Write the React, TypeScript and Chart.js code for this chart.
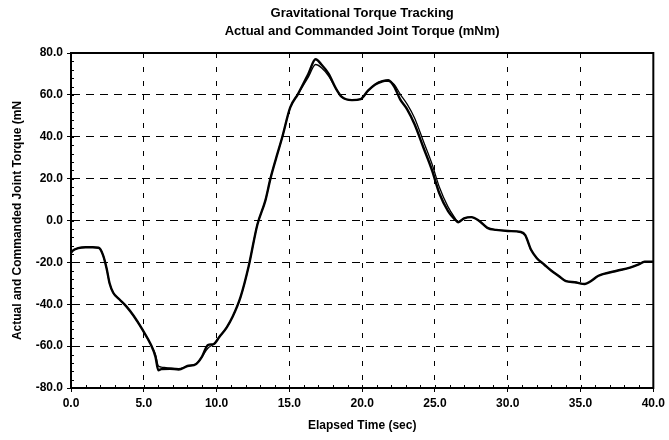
import { useEffect, useRef } from "react";
import { Chart, registerables } from "chart.js";

Chart.register(...registerables);

const titleLines = ["Gravitational Torque Tracking", "Actual and Commanded Joint Torque (mNm)"];
const xAxisTitle = "Elapsed Time (sec)";
const yAxisTitle = "Actual and Commanded Joint Torque (mN";

const timeSec = [
  0.0, 0.1, 0.5, 1.0, 1.5, 1.9, 2.2, 2.45, 2.65, 2.9, 3.3, 3.8, 4.3, 4.9, 5.5, 5.8, 6.0, 6.2, 6.8, 7.4,
  8.0, 8.6, 9.0, 9.4, 9.8, 10.2, 10.7, 11.1, 11.65, 12.2, 12.8, 13.35, 13.7, 14.1, 14.5, 15.06, 15.6, 16.3,
  16.8, 17.2, 17.7, 18.2, 18.6, 19.3, 19.9, 20.4, 20.9, 21.4, 21.8, 22.2, 22.6, 23.1, 23.6, 24.2, 24.8,
  25.3, 25.9, 26.3, 26.6, 27.0, 27.5, 28.0, 28.6, 29.2, 30.0, 30.9, 31.2, 31.6, 32.0, 32.5, 33.0, 33.5,
  34.0, 34.6, 35.3, 35.7, 36.2, 36.6, 37.5, 38.4, 39.0, 39.4, 40.0,
];

const actualTorque = [
  -15.5, -14.5, -13.2, -12.8, -12.8, -13.0, -16.5, -23, -30, -34.5, -37.5, -41, -45.5, -52, -59.5, -65, -71.5,
  -71, -70.8, -71.2, -69.5, -68.5, -65, -59.5, -59, -55.5, -51, -46, -36.5, -22, -2, 9.5, 20, 30, 39.5, 54,
  60.5, 70, 77, 74.5, 70, 63, 59, 57.5, 58, 62, 65, 66.5, 67, 64, 58, 53, 46, 35, 24, 13, 4.5, 1, -0.8, 1,
  1.6, 0, -3.5, -4.5, -5, -5.5, -7, -14, -18, -21, -24, -26.5, -29, -29.5, -30.3, -29, -26.5, -25.5, -24,
  -22.5, -21, -19.7, -19.7,
];

const commandedTorque = [
  -15.5, -14.5, -13.2, -12.8, -12.8, -13.0, -16.5, -23, -30, -34.5, -37.5, -41, -45.5, -52, -59.5, -64, -69.5,
  -70, -70.5, -70.8, -69.5, -68.5, -65, -61, -59, -55.5, -51, -46, -36.5, -22, -2, 9.5, 20, 30, 39.5, 54,
  60.5, 68.5, 74.5, 73, 69, 63, 59, 57.5, 58, 62, 65, 66.5, 66.5, 65, 60.5, 55.5, 49, 38, 27, 16, 6.5, 2,
  -0.5, 1, 1.6, 0, -3.5, -4.5, -5, -5.5, -7, -14, -18, -21, -24, -26.5, -29, -29.5, -30.3, -29, -26.5,
  -25.5, -24, -22.5, -21, -19.7, -19.7,
];

const xMin = 0;
const xMax = 40;
const xStep = 5;
const xMinorStep = 1;
const yMin = -80;
const yMax = 80;
const yStep = 20;
const yMinorStep = 4;

const FONT = "'Liberation Sans', Arial, sans-serif";

const framePlugin = {
  id: "frameAndTitles",
  afterDraw(chart: any) {
    const { ctx, chartArea } = chart;
    const { left, right, top, bottom } = chartArea;
    const xs = chart.scales.x;
    const ys = chart.scales.y;
    ctx.save();
    ctx.strokeStyle = "#000";
    ctx.lineWidth = 1;
    ctx.setLineDash([]);
    ctx.beginPath();
    for (let v = xMin; v <= xMax + 1e-9; v += xMinorStep) {
      const px = Math.round(xs.getPixelForValue(v)) + 0.5;
      ctx.moveTo(px, bottom);
      ctx.lineTo(px, bottom - 3);
    }
    for (let v = yMin; v <= yMax + 1e-9; v += yMinorStep) {
      const py = Math.round(ys.getPixelForValue(v)) + 0.5;
      ctx.moveTo(left, py);
      ctx.lineTo(left + 3, py);
    }
    ctx.stroke();
    ctx.lineWidth = 2;
    ctx.strokeRect(left, top, right - left, bottom - top);
    ctx.fillStyle = "#000";
    ctx.font = `bold 13px ${FONT}`;
    ctx.textAlign = "center";
    ctx.textBaseline = "middle";
    const cx = (left + right) / 2;
    ctx.fillText(titleLines[0], cx, 13);
    ctx.fillText(titleLines[1], cx, 31);
    ctx.restore();
  },
};

export default function App() {
  const ref = useRef<HTMLCanvasElement | null>(null);
  useEffect(() => {
    document.body.style.margin = "0";
    const canvas = ref.current;
    if (!canvas) return;
    const chart = new Chart(canvas, {
      type: "line",
      data: {
        datasets: [
          {
            label: "Actual",
            data: timeSec.map((t, i) => ({ x: t, y: actualTorque[i] })),
            borderColor: "#000",
            borderWidth: 2.4,
            pointRadius: 0,
            cubicInterpolationMode: "monotone",
            fill: false,
          },
          {
            label: "Commanded",
            data: timeSec.map((t, i) => ({ x: t, y: commandedTorque[i] })),
            borderColor: "#000",
            borderWidth: 1.3,
            pointRadius: 0,
            cubicInterpolationMode: "monotone",
            fill: false,
          },
        ],
      },
      options: {
        responsive: false,
        animation: false,
        layout: { padding: { top: 53, right: 12, left: 0, bottom: 0 } },
        plugins: {
          legend: { display: false },
          title: { display: false },
          tooltip: { enabled: false },
        },
        scales: {
          x: {
            type: "linear",
            min: xMin,
            max: xMax,
            afterFit: (s: any) => {
              s.height = 52;
            },
            ticks: {
              stepSize: xStep,
              color: "#000",
              font: { family: FONT, size: 12, weight: "bold" },
              padding: 4,
              maxRotation: 0,
              callback: (v: any) => Number(v).toFixed(1),
            },
            grid: {
              color: "#000",
              lineWidth: 1,
              tickLength: 4,
              tickColor: "#000",
              tickBorderDash: [],
            },
            border: { display: true, color: "#000", width: 2, dash: [5, 9] },
            title: {
              display: true,
              text: xAxisTitle,
              color: "#000",
              font: { family: FONT, size: 12, weight: "bold" },
              padding: { top: 0, bottom: 7 },
            },
          },
          y: {
            min: yMin,
            max: yMax,
            afterFit: (s: any) => {
              s.width = 71;
            },
            ticks: {
              stepSize: yStep,
              color: "#000",
              font: { family: FONT, size: 12, weight: "bold" },
              padding: 4,
              callback: (v: any) => Number(v).toFixed(1),
            },
            grid: {
              color: "#000",
              lineWidth: 1,
              tickLength: 4,
              tickColor: "#000",
              tickBorderDash: [],
            },
            border: { display: true, color: "#000", width: 2, dash: [8, 6] },
            title: {
              display: true,
              text: yAxisTitle,
              color: "#000",
              font: { family: FONT, size: 12, weight: "bold" },
              padding: { top: 10, bottom: 0 },
            },
          },
        },
      },
      plugins: [framePlugin],
    });
    return () => chart.destroy();
  }, []);
  return (
    <div style={{ width: 669, height: 440 }}>
      <canvas ref={ref} width={669} height={440} style={{ display: "block" }} />
    </div>
  );
}
